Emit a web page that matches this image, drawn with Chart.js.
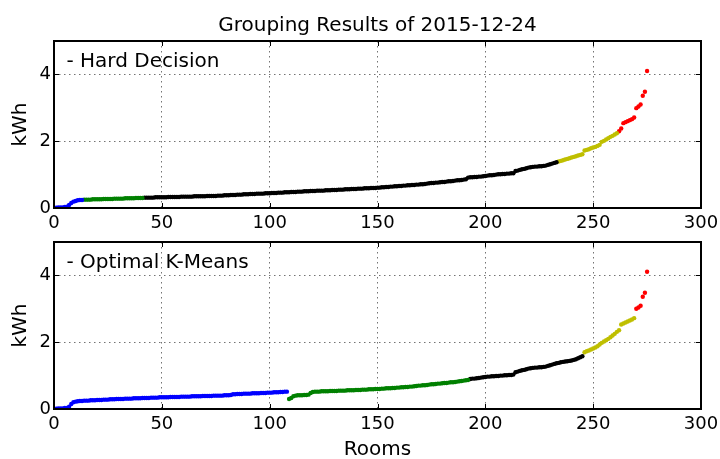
<!DOCTYPE html>
<html>
<head>
<meta charset="utf-8">
<script src="https://cdn.jsdelivr.net/npm/chart.js@4/dist/chart.umd.min.js"></script>
<style>
  html, body { margin: 0; padding: 0; background: #ffffff; }
  #wrap { position: relative; width: 720px; height: 459px; overflow: hidden; }
  .panel { position: absolute; left: 0; }
</style>
</head>
<body>
<div id="wrap">
  <canvas id="hardChart" class="panel" style="top:0" width="720" height="230"></canvas>
  <canvas id="kmeansChart" class="panel" style="top:230px" width="720" height="229"></canvas>
</div>
<script>
// Daily consumption per room (kWh), rooms ranked left to right, split by group.
// Hard decision grouping
const hardBlue = [0.01,0.01,0.02,0.02,0.02,0.03,0.04,0.09,0.15,0.19,0.21,0.23,0.24,0.24];
const hardGreen = [0.25,0.25,0.25,0.25,0.26,0.26,0.26,0.26,0.26,0.27,0.27,0.27,0.27,0.27,
  0.28,0.28,0.28,0.28,0.28,0.29,0.29,0.29,0.29,0.29,0.30,0.30,0.30,0.30];
const hardBlack = [0.31,0.31,0.31,0.31,0.31,0.32,0.32,0.32,
  0.32,0.32,0.32,0.33,0.33,0.33,0.33,0.33,0.33,0.34,
  0.34,0.34,0.34,0.34,0.34,0.35,0.35,0.35,0.35,0.35,
  0.35,0.36,0.36,0.36,0.36,0.36,0.37,0.37,0.37,0.38,
  0.38,0.38,0.39,0.39,0.39,0.40,0.40,0.40,0.41,0.41,
  0.41,0.42,0.42,0.42,0.43,0.43,0.43,0.43,0.44,0.44,
  0.44,0.45,0.45,0.45,0.46,0.46,0.46,0.47,0.47,0.47,
  0.48,0.48,0.48,0.49,0.49,0.49,0.50,0.50,0.50,0.51,
  0.51,0.51,0.52,0.52,0.52,0.52,0.53,0.53,0.53,0.54,
  0.54,0.54,0.55,0.55,0.55,0.56,0.56,0.56,0.57,0.57,
  0.57,0.58,0.58,0.58,0.59,0.59,0.59,0.60,0.60,0.60,
  0.61,0.61,0.62,0.62,0.63,0.63,0.64,0.64,0.65,0.65,
  0.66,0.66,0.67,0.67,0.68,0.68,0.69,0.69,0.70,0.70,
  0.71,0.71,0.72,0.73,0.74,0.75,0.75,0.76,0.76,0.77,
  0.78,0.78,0.79,0.80,0.80,0.81,0.82,0.83,0.83,0.84,
  0.85,0.86,0.91,0.92,0.92,0.93,0.93,0.94,0.94,0.95,
  0.96,0.97,0.98,0.98,0.99,1.00,1.01,1.01,1.02,1.02,
  1.03,1.03,1.04,1.04,1.11,1.12,1.14,1.16,1.17,1.19,
  1.21,1.22,1.23,1.24,1.24,1.25,1.25,1.26,1.27,1.29,
  1.31,1.33,1.35,1.37];
const hardYellow = [1.39,1.41,1.43,1.45,1.47,1.49,1.51,1.53,1.55,1.57,1.59,1.61,
  1.72,1.74,1.76,1.79,1.81,1.83,1.86,1.89,
  1.98,2.01,2.05,2.09,2.13,2.16,2.20,2.24];
const hardRed = [2.30,2.38,2.54,2.57,2.60,2.63,2.66,2.71,2.99,3.04,3.10,3.36,3.48,4.10];

// Optimal K-Means grouping
const kmBlue = [0.01,0.01,0.02,0.02,0.02,0.03,0.03,0.07,0.15,0.20,
  0.22,0.23,0.24,0.24,0.25,0.25,0.25,0.26,0.26,0.26,
  0.27,0.27,0.27,0.28,0.28,0.28,0.29,0.29,0.29,0.30,
  0.30,0.30,0.30,0.31,0.31,0.31,0.31,0.32,0.32,0.32,
  0.32,0.33,0.33,0.33,0.33,0.34,0.34,0.34,0.34,0.35,
  0.35,0.35,0.35,0.35,0.36,0.36,0.36,0.36,0.36,0.37,
  0.37,0.37,0.37,0.37,0.38,0.38,0.38,0.38,0.38,0.39,
  0.39,0.39,0.39,0.39,0.40,0.40,0.40,0.40,0.40,0.41,
  0.41,0.41,0.42,0.44,0.44,0.45,0.45,0.45,0.46,0.46,
  0.46,0.46,0.47,0.47,0.47,0.47,0.48,0.48,0.48,0.49,
  0.49,0.49,0.50,0.50,0.50,0.51,0.51,0.52,0.52];
const kmGreen = [0.30,0.33,0.38,0.40,0.41,0.41,0.41,0.42,0.42,0.43,0.48,
  0.51,0.52,0.52,0.52,0.53,0.53,0.53,0.53,0.54,0.54,
  0.54,0.54,0.55,0.55,0.55,0.55,0.56,0.56,0.56,0.56,
  0.57,0.57,0.57,0.58,0.58,0.58,0.59,0.59,0.59,0.60,
  0.60,0.60,0.61,0.61,0.62,0.62,0.62,0.63,0.63,0.64,
  0.64,0.65,0.65,0.66,0.66,0.67,0.67,0.68,0.69,0.70,
  0.70,0.71,0.71,0.72,0.73,0.74,0.74,0.75,0.76,0.76,
  0.77,0.78,0.78,0.79,0.80,0.80,0.81,0.82,0.83,0.84,
  0.85,0.86,0.87];
const kmBlack = [0.90,0.91,0.91,0.92,0.93,0.94,0.95,
  0.96,0.97,0.97,0.98,0.98,0.99,0.99,1.00,1.00,1.01,
  1.01,1.02,1.02,1.03,1.10,1.12,1.14,1.16,1.17,1.19,
  1.21,1.22,1.23,1.24,1.24,1.25,1.25,1.26,1.27,1.29,
  1.31,1.33,1.35,1.37,1.38,1.40,1.41,1.42,1.43,1.44,
  1.45,1.47,1.49,1.52,1.55,1.58];
const kmYellow = [1.70,1.73,1.75,1.78,1.81,1.84,1.88,1.93,1.98,2.02,2.06,2.10,2.15,2.20,2.25,2.31,
  2.36,2.53,2.56,2.59,2.62,2.65,2.68,2.72];
const kmRed = [3.00,3.04,3.09,3.36,3.48,4.11];

const groupColors = ['#0000ff', '#008000', '#000000', '#bfbf00', '#ff0000'];
const FONT = 'DejaVu Sans';

// Rank rooms in order across the groups: room index is the x value.
function groupDatasets(groups) {
  let room = 0;
  return groups.map((values, g) => ({
    data: values.map(v => ({ x: room++, y: v })),
    backgroundColor: groupColors[g],
    borderWidth: 0,
    pointRadius: 2.2,
    pointHoverRadius: 2.2
  }));
}

// Full axes frame, inward tick marks and the panel caption.
const framePlugin = {
  id: 'frame',
  afterDatasetsDraw(chart, args, opts) {
    const { ctx, chartArea: a, scales: { x, y } } = chart;
    ctx.save();
    ctx.strokeStyle = '#000';
    ctx.lineWidth = 1;
    const tl = 5;
    ctx.beginPath();
    x.ticks.forEach(t => {
      const px = Math.round(x.getPixelForValue(t.value)) + 0.5;
      ctx.moveTo(px, a.bottom); ctx.lineTo(px, a.bottom - tl);
      ctx.moveTo(px, a.top); ctx.lineTo(px, a.top + tl);
    });
    y.ticks.forEach(t => {
      const py = Math.round(y.getPixelForValue(t.value)) + 0.5;
      ctx.moveTo(a.left, py); ctx.lineTo(a.left + tl, py);
      ctx.moveTo(a.right, py); ctx.lineTo(a.right - tl, py);
    });
    ctx.stroke();
    ctx.lineWidth = 2;
    ctx.strokeRect(a.left, a.top, a.right - a.left, a.bottom - a.top);
    ctx.fillStyle = '#000';
    ctx.font = '20px "' + FONT + '"';
    ctx.textBaseline = 'alphabetic';
    ctx.textAlign = 'left';
    ctx.fillText(opts.caption, a.left + 12.5, a.top + opts.captionOffset);
    ctx.restore();
  }
};

function makeChart(id, groups, cfg) {
  return new Chart(document.getElementById(id), {
    type: 'scatter',
    data: { datasets: groupDatasets(groups) },
    options: {
      responsive: false,
      animation: false,
      events: [],
      layout: { padding: { left: 0, right: 19, top: cfg.padTop, bottom: 0 } },
      plugins: {
        legend: { display: false },
        tooltip: { enabled: false },
        title: cfg.title,
        frame: { caption: cfg.caption, captionOffset: cfg.captionOffset }
      },
      scales: {
        x: {
          type: 'linear', min: 0, max: 300,
          border: { display: false, dash: [1.5, 3.5] },
          grid: { color: 'rgba(0,0,0,0.55)', lineWidth: 1, drawTicks: false },
          ticks: { stepSize: 50, padding: 5, color: '#000', font: { family: FONT, size: 18 }, maxRotation: 0 },
          title: cfg.xTitle,
          afterFit(s) { s.height = cfg.xHeight; s.paddingLeft = 0; s.paddingRight = 0; }
        },
        y: {
          type: 'linear', min: 0, max: 5,
          border: { display: false, dash: [1.5, 3.5] },
          grid: { color: 'rgba(0,0,0,0.55)', lineWidth: 1, drawTicks: false },
          ticks: { stepSize: 2, includeBounds: false, padding: 3, color: '#000', font: { family: FONT, size: 18 } },
          title: { display: true, text: 'kWh', color: '#000', font: { family: FONT, size: 20 }, padding: { top: 8.5, bottom: 0 } },
          afterFit(s) { s.width = 54; s.paddingTop = 0; s.paddingBottom = 0; }
        }
      }
    },
    plugins: [framePlugin]
  });
}

Chart.defaults.font.family = FONT;

makeChart('hardChart', [hardBlue, hardGreen, hardBlack, hardYellow, hardRed], {
  padTop: 0,
  xHeight: 22,
  caption: '- Hard Decision',
  captionOffset: 26,
  title: { display: true, fullSize: false, text: 'Grouping Results of 2015-12-24', color: '#000',
           font: { family: FONT, size: 20, weight: 'normal' }, padding: { top: 14, bottom: 3 } },
  xTitle: { display: false }
});

makeChart('kmeansChart', [kmBlue, kmGreen, kmBlack, kmYellow, kmRed], {
  padTop: 12,
  xHeight: 50,
  caption: '- Optimal K-Means',
  captionOffset: 25.5,
  title: { display: false },
  xTitle: { display: true, text: 'Rooms', color: '#000', font: { family: FONT, size: 20, lineHeight: 0.9 }, padding: { top: 0, bottom: 0 } }
});
</script>
</body>
</html>
